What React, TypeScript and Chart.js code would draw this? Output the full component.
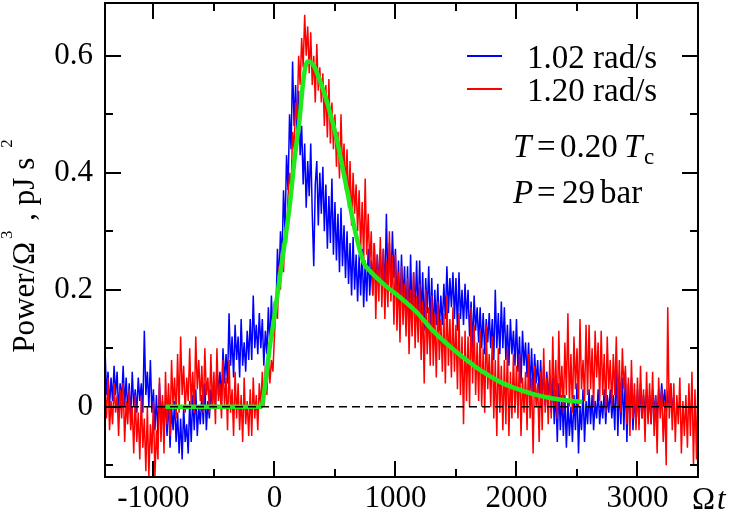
import React, { useEffect, useRef } from 'react';
import { Chart, registerables } from 'chart.js';
Chart.register(...registerables);

const X_MIN = -1400;
const X_MAX = 3500;
const Y_MIN = -0.12;
const Y_MAX = 0.69;
const X_TICKS = [-1000, 0, 1000, 2000, 3000];
const X_MINOR = [-500, 500, 1500, 2500];
const Y_TICKS = [0, 0.2, 0.4, 0.6];
const Y_MINOR = [-0.1, 0.1, 0.3, 0.5];

const SAMPLE_STEP = 12.5;
const BLUE_START = -1400;
const BLUE_VALUES = [
  0.1, 0.02, 0.06, 0.0, 0.05, 0.01, 0.07, 0.02,
  0.06, -0.01, 0.04, 0.01, 0.07, 0.0, 0.05, -0.01,
  0.04, -0.02, 0.06, 0.0, 0.03, -0.01, 0.05, 0.01,
  0.04, -0.01, 0.13, 0.02, 0.06, 0.0, 0.08, -0.01,
  0.03, -0.04, 0.02, -0.05, 0.04, -0.02, 0.01, -0.03,
  0.01, -0.05, 0.02, -0.07, 0.0, -0.04, 0.01, -0.06,
  -0.01, -0.08, -0.02, -0.09, 0.0, -0.06, -0.03, -0.08,
  0.01, -0.06, 0.02, -0.04, 0.03, -0.05, 0.0, -0.03,
  0.02, -0.03, 0.04, -0.04, 0.01, -0.02, 0.03, 0.0,
  0.04, 0.0, 0.07, 0.02, 0.06, 0.01, 0.1, 0.04,
  0.09, 0.04, 0.16, 0.07, 0.12, 0.05, 0.14, 0.08,
  0.12, 0.05, 0.15, 0.07, 0.11, 0.06, 0.13, 0.08,
  0.15, 0.08, 0.19, 0.1, 0.14, 0.09, 0.16, 0.1,
  0.15, 0.07, 0.13, 0.09, 0.17, 0.1, 0.19, 0.12,
  0.18, 0.16, 0.27, 0.21, 0.3, 0.25, 0.37, 0.3,
  0.43, 0.37, 0.5, 0.44, 0.59, 0.48, 0.55, 0.46,
  0.54, 0.43, 0.48, 0.38, 0.45, 0.34, 0.42, 0.36,
  0.45, 0.33, 0.24, 0.38, 0.42, 0.31, 0.4, 0.33,
  0.41, 0.3, 0.38, 0.27, 0.36, 0.28, 0.39, 0.26,
  0.35, 0.25, 0.33, 0.23, 0.34, 0.24, 0.31, 0.22,
  0.3, 0.21, 0.28, 0.19, 0.29, 0.2, 0.26, 0.18,
  0.26, 0.19, 0.27, 0.17, 0.25, 0.18, 0.27, 0.19,
  0.25, 0.19, 0.28, 0.2, 0.26, 0.21, 0.27, 0.2,
  0.27, 0.19, 0.33, 0.21, 0.28, 0.2, 0.3, 0.22,
  0.27, 0.17, 0.25, 0.16, 0.26, 0.18, 0.24, 0.15,
  0.24, 0.14, 0.26, 0.15, 0.23, 0.16, 0.25, 0.15,
  0.25, 0.15, 0.23, 0.13, 0.22, 0.16, 0.24, 0.14,
  0.22, 0.12, 0.2, 0.14, 0.21, 0.13, 0.19, 0.14,
  0.21, 0.15, 0.24, 0.16, 0.22, 0.17, 0.23, 0.15,
  0.22, 0.13, 0.23, 0.15, 0.2, 0.14, 0.21, 0.15,
  0.2, 0.12, 0.18, 0.1, 0.19, 0.13, 0.17, 0.11,
  0.17, 0.1, 0.16, 0.09, 0.15, 0.11, 0.16, 0.1,
  0.15, 0.08, 0.2, 0.1, 0.16, 0.09, 0.18, 0.1,
  0.17, 0.08, 0.14, 0.07, 0.15, 0.09, 0.13, 0.07,
  0.15, 0.06, 0.12, 0.04, 0.13, 0.07, 0.11, 0.05,
  0.11, 0.03, 0.1, 0.02, 0.09, 0.04, 0.08, 0.02,
  0.08, 0.01, 0.07, 0.0, 0.06, 0.02, 0.05, -0.01,
  0.05, -0.03, 0.03, -0.06, 0.04, -0.04, 0.02, -0.05,
  0.02, -0.07, 0.01, -0.05, 0.0, -0.06, 0.02, -0.04,
  0.04, -0.08, 0.0, -0.04, 0.03, -0.06, 0.01, -0.03,
  0.03, -0.03, 0.02, -0.04, 0.01, -0.02, 0.03, -0.03,
  0.01, -0.02, 0.03, -0.03, 0.02, -0.01, 0.03, -0.02,
  0.02, -0.04, 0.08, -0.05, 0.04, -0.03, 0.05, -0.04,
  0.06, -0.06, 0.04, -0.02, 0.05, -0.04, 0.02, -0.03,
  0.03, -0.03, 0.04, -0.02, 0.02, -0.01, 0.03, -0.02,
  0.02, -0.03, 0.03, -0.01, 0.02, -0.02, 0.03, 0.0,
  0.04, 0.0, 0.03, -0.01, 0.02, 0.0, 0.04, -0.01,
  0.02,
];

const RED_START = -1400;
const RED_VALUES = [
  0.03, -0.02, 0.05, -0.04, 0.01, -0.03, 0.04, -0.01,
  0.02, -0.05, 0.03, -0.02, 0.04, -0.06, 0.01, -0.03,
  0.03, -0.04, 0.0, -0.08, 0.02, -0.06, -0.01, -0.09,
  0.02, -0.07, -0.02, -0.11, 0.0, -0.12, -0.03, -0.08,
  0.01, -0.12, -0.04, -0.09, 0.05, -0.06, 0.02, -0.08,
  0.06, -0.03, 0.04, -0.05, 0.08, 0.0, 0.05, -0.02,
  0.09, -0.01, 0.12, 0.02, 0.07, -0.01, 0.05, 0.01,
  0.1, 0.0, 0.06, -0.01, 0.12, 0.03, 0.08, 0.01,
  0.07, -0.01, 0.1, 0.02, 0.05, -0.01, 0.09, 0.0,
  0.06, -0.03, 0.1, 0.01, 0.04, -0.02, 0.08, 0.0,
  0.05, -0.04, 0.08, -0.01, 0.03, -0.05, 0.06, -0.02,
  0.04, -0.04, 0.02, -0.06, 0.05, -0.03, 0.01, -0.05,
  0.03, -0.05, 0.05, -0.02, 0.02, -0.04, 0.04, 0.0,
  0.06, 0.0, 0.07, 0.02, 0.09, 0.04, 0.08, 0.06,
  0.12, 0.17, 0.15, 0.24, 0.2, 0.28, 0.23, 0.3,
  0.28, 0.36, 0.4, 0.37, 0.47, 0.44, 0.52, 0.49,
  0.6, 0.55, 0.63, 0.58, 0.67, 0.6, 0.65, 0.57,
  0.64, 0.55, 0.6, 0.52, 0.62, 0.54, 0.58, 0.52,
  0.57, 0.48, 0.55, 0.46, 0.56, 0.45, 0.52, 0.44,
  0.5, 0.41, 0.47, 0.39, 0.5, 0.4, 0.45, 0.37,
  0.44, 0.34, 0.42, 0.31, 0.4, 0.33, 0.38, 0.3,
  0.37, 0.27, 0.35, 0.25, 0.39, 0.26, 0.33, 0.24,
  0.3, 0.19, 0.28, 0.15, 0.26, 0.18, 0.29, 0.17,
  0.27, 0.15, 0.25, 0.17, 0.3, 0.18, 0.26, 0.14,
  0.26, 0.13, 0.23, 0.11, 0.24, 0.14, 0.21, 0.12,
  0.22, 0.09, 0.2, 0.12, 0.23, 0.1, 0.19, 0.11,
  0.21, 0.08, 0.18, 0.04, 0.2, 0.09, 0.17, 0.07,
  0.19, 0.07, 0.16, 0.05, 0.18, 0.08, 0.15, 0.06,
  0.16, 0.04, 0.19, 0.07, 0.15, 0.05, 0.17, 0.06,
  0.14, 0.03, 0.16, 0.02, 0.12, -0.03, 0.13, 0.01,
  0.12, 0.0, 0.17, 0.04, 0.14, 0.02, 0.11, 0.01,
  0.13, 0.0, 0.1, -0.01, 0.14, 0.03, 0.09, 0.0,
  0.12, -0.02, 0.08, -0.05, 0.1, -0.01, 0.07, -0.04,
  0.08, -0.03, 0.1, -0.05, 0.06, -0.02, 0.09, -0.01,
  0.07, -0.02, 0.09, -0.05, 0.05, -0.01, 0.06, -0.04,
  0.09, -0.02, 0.05, -0.08, 0.07, 0.0, 0.04, -0.06,
  0.06, -0.04, 0.1, -0.01, 0.05, -0.03, 0.08, -0.02,
  0.12, 0.0, 0.08, -0.02, 0.13, 0.01, 0.07, -0.01,
  0.11, 0.02, 0.16, 0.0, 0.09, -0.01, 0.12, 0.03,
  0.1, 0.0, 0.15, 0.03, 0.08, 0.01, 0.14, 0.02,
  0.14, 0.03, 0.1, 0.0, 0.13, 0.05, 0.11, 0.01,
  0.13, 0.02, 0.09, -0.01, 0.12, 0.03, 0.08, 0.0,
  0.09, 0.02, 0.12, 0.0, 0.08, -0.01, 0.1, 0.03,
  0.07, -0.03, 0.05, -0.05, 0.08, -0.02, 0.04, -0.04,
  0.05, -0.04, 0.07, -0.02, 0.03, -0.06, 0.06, -0.03,
  0.04, -0.03, 0.06, -0.05, 0.02, -0.08, 0.05, -0.02,
  0.03, -0.06, 0.01, -0.1, 0.17, -0.02, 0.04, -0.04,
  0.04, -0.06, 0.02, -0.03, 0.05, -0.08, 0.01, -0.05,
  0.02, -0.07, 0.04, -0.05, 0.06, -0.1, 0.03, -0.09,
  0.05,
];

const FIT_X = [-900, -110, -75, -40, 0, 50, 124, 170, 207, 240, 273, 320, 397, 450, 512, 595, 678, 740, 790, 900, 1033, 1174, 1306, 1450, 1587, 1720, 1860, 2000, 2132, 2300, 2545];
const FIT_Y = [0, 0, 0.04, 0.1, 0.155, 0.23, 0.34, 0.43, 0.49, 0.56, 0.59, 0.585, 0.545, 0.51, 0.46, 0.375, 0.29, 0.245, 0.232, 0.21, 0.188, 0.162, 0.131, 0.103, 0.08, 0.06, 0.043, 0.031, 0.022, 0.014, 0.008];

const LEGEND_LABELS = ['1.02 rad/s', '1.20 rad/s'];
const BLUE = '#0000ff';
const RED = '#ff0000';
const GREEN = '#1eea1e';
const FONT = "'Liberation Serif', 'Times New Roman', serif";

const framePlugin = {
  id: 'frameTicks',
  afterDatasetsDraw(chart: any) {
    const { ctx, chartArea: a, scales } = chart;
    const xs = scales.x;
    const ys = scales.y;
    ctx.save();
    ctx.strokeStyle = '#000';
    ctx.lineWidth = 2;
    ctx.beginPath();
    const xt = (vals: number[], len: number) => {
      for (const v of vals) {
        const p = Math.round(xs.getPixelForValue(v));
        ctx.moveTo(p, a.bottom);
        ctx.lineTo(p, a.bottom - len);
        ctx.moveTo(p, a.top);
        ctx.lineTo(p, a.top + len);
      }
    };
    const yt = (vals: number[], len: number) => {
      for (const v of vals) {
        const p = Math.round(ys.getPixelForValue(v));
        ctx.moveTo(a.left, p);
        ctx.lineTo(a.left + len, p);
        ctx.moveTo(a.right, p);
        ctx.lineTo(a.right - len, p);
      }
    };
    xt(X_TICKS, 16);
    xt(X_MINOR, 8);
    yt(Y_TICKS, 16);
    yt(Y_MINOR, 8);
    ctx.stroke();
    ctx.strokeRect(a.left, a.top, a.right - a.left, a.bottom - a.top);
    ctx.restore();
  },
};

const textPlugin = {
  id: 'texts',
  afterDraw(chart: any) {
    const { ctx } = chart;
    ctx.save();
    ctx.fillStyle = '#000';
    ctx.textBaseline = 'alphabetic';
    ctx.textAlign = 'left';
    const up = `33px ${FONT}`;

    // legend
    const legendColors = [BLUE, RED];
    const legendY = [56, 89];
    for (let i = 0; i < LEGEND_LABELS.length; i++) {
      ctx.strokeStyle = legendColors[i];
      ctx.lineWidth = 2;
      ctx.beginPath();
      ctx.moveTo(467, legendY[i]);
      ctx.lineTo(502, legendY[i]);
      ctx.stroke();
      ctx.font = up;
      ctx.fillText(LEGEND_LABELS[i], 527, legendY[i] + 12);
    }

    // annotations
    const an = `33px ${FONT}`;
    const ai = `italic 33px ${FONT}`;
    ctx.font = ai;
    ctx.fillText('T', 513, 157);
    ctx.font = an;
    ctx.fillText('=', 537, 157);
    ctx.fillText('0.20', 560, 157);
    ctx.font = ai;
    ctx.fillText('T', 624, 157);
    ctx.font = `23px ${FONT}`;
    ctx.fillText('c', 644, 164);

    ctx.font = ai;
    ctx.fillText('P', 513, 203);
    ctx.font = an;
    ctx.fillText('=', 537, 203);
    ctx.fillText('29', 562, 203);
    ctx.fillText('bar', 600, 203);

    // x title
    ctx.font = `31px ${FONT}`;
    ctx.fillText('Ω', 692, 509);
    ctx.font = `italic 31px ${FONT}`;
    ctx.fillText('t', 717, 509);

    // y title
    ctx.translate(34, 246);
    ctx.rotate(-Math.PI / 2);
    const main = `31px ${FONT}`;
    const sup = `17px ${FONT}`;
    const parts: [string, string, number, number][] = [
      ['Power/Ω', main, 0, 0],
      ['3', sup, -22, 3],
      [' , pJ s', main, 0, 2],
      ['2', sup, -22, 10],
    ];
    let total = 0;
    const widths: number[] = [];
    for (const [t, f, , g] of parts) {
      ctx.font = f;
      const w = ctx.measureText(t).width;
      widths.push(w);
      total += w + g;
    }
    let x = -total / 2;
    parts.forEach(([t, f, dy, g], i) => {
      x += g;
      ctx.font = f;
      ctx.fillText(t, x, dy);
      x += widths[i];
    });
    ctx.restore();
  },
};

export default function App() {
  const ref = useRef<HTMLCanvasElement | null>(null);
  useEffect(() => {
    if (!ref.current) return;
    const blue = BLUE_VALUES.map((y, i) => ({ x: BLUE_START + i * SAMPLE_STEP, y }));
    const red = RED_VALUES.map((y, i) => ({ x: RED_START + i * SAMPLE_STEP, y }));
    const fit = FIT_X.map((x, i) => ({ x, y: FIT_Y[i] }));
    const zero = [{ x: X_MIN, y: 0 }, { x: X_MAX, y: 0 }];
    const chart = new Chart(ref.current, {
      type: 'scatter',
      data: {
        datasets: [
          { data: zero, showLine: true, borderColor: '#000', borderWidth: 1.6, borderDash: [8, 5], pointRadius: 0 },
          { data: fit, showLine: true, borderColor: GREEN, borderWidth: 4.5, pointRadius: 0, cubicInterpolationMode: 'monotone' },
          { data: red, showLine: true, borderColor: RED, borderWidth: 1.5, pointRadius: 0, tension: 0 },
          { data: blue, showLine: true, borderColor: BLUE, borderWidth: 1.5, pointRadius: 0, tension: 0 },
        ] as any,
      },
      options: {
        responsive: false,
        animation: false,
        layout: { padding: { left: 0, right: 33, top: 3, bottom: 0 } },
        plugins: { legend: { display: false }, tooltip: { enabled: false } },
        scales: {
          x: {
            type: 'linear',
            min: X_MIN,
            max: X_MAX,
            grid: { display: false, drawTicks: false },
            border: { display: false },
            afterBuildTicks: (s: any) => { s.ticks = X_TICKS.map((v) => ({ value: v })); },
            afterFit: (s: any) => { s.height = 37; s.paddingLeft = 0; s.paddingRight = 0; },
            ticks: { font: { family: FONT, size: 31 }, color: '#000', padding: 3, maxRotation: 0, autoSkip: false, callback: (v: any) => String(v) },
          },
          y: {
            type: 'linear',
            min: Y_MIN,
            max: Y_MAX,
            grid: { display: false, drawTicks: false },
            border: { display: false },
            afterBuildTicks: (s: any) => { s.ticks = Y_TICKS.map((v) => ({ value: v })); },
            afterFit: (s: any) => { s.width = 105; s.paddingTop = 0; s.paddingBottom = 0; },
            ticks: { font: { family: FONT, size: 31 }, color: '#000', padding: 12, autoSkip: false, callback: (v: any) => (v === 0 ? '0' : Number(v).toFixed(1)) },
          },
        },
      } as any,
      plugins: [framePlugin, textPlugin],
    });
    return () => chart.destroy();
  }, []);
  return (
    <div style={{ position: 'absolute', left: 0, top: 0, width: 731, height: 514, background: '#fff' }}>
      <canvas ref={ref} width={731} height={514} style={{ display: 'block' }} />
    </div>
  );
}
